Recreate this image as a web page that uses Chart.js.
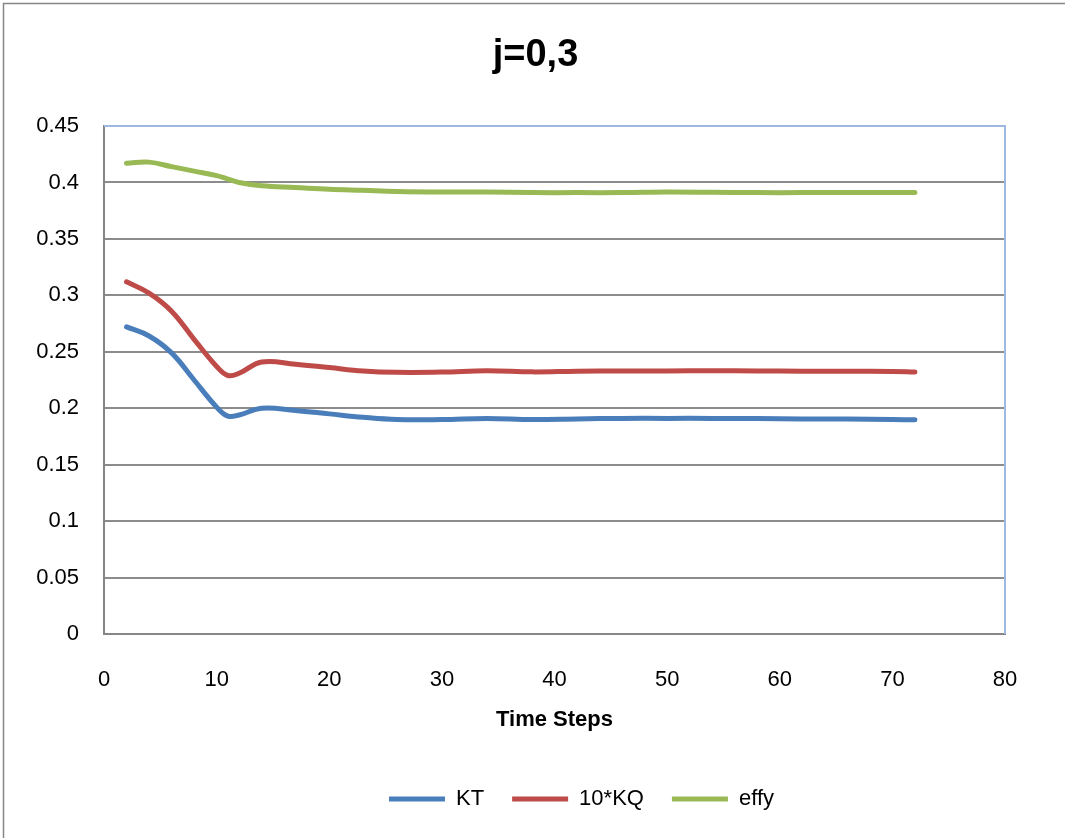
<!DOCTYPE html>
<html>
<head>
<meta charset="utf-8">
<title>j=0,3</title>
<script src="https://cdn.jsdelivr.net/npm/chart.js@4/dist/chart.umd.min.js"></script>
<style>
  html, body { margin: 0; padding: 0; background: #ffffff; }
  canvas { display: block; }
</style>
</head>
<body>
<canvas id="chart" width="1065" height="838"></canvas>
<script>
// Time steps at which the coefficients were sampled
const steps = [2, 4, 6, 8, 10, 11, 12, 14, 17, 20, 23, 26, 30, 34, 38, 42, 46, 50, 54, 58, 62, 66, 70, 72];

// Thrust coefficient
const kt = [0.272, 0.264, 0.249, 0.225, 0.201, 0.193, 0.194, 0.200, 0.198, 0.195, 0.192, 0.190,
            0.190, 0.191, 0.190, 0.1905, 0.191, 0.191, 0.191, 0.1908, 0.1905, 0.1905, 0.190, 0.1897];

// Torque coefficient, scaled by 10
const kq10 = [0.312, 0.302, 0.286, 0.261, 0.237, 0.229, 0.231, 0.241, 0.239, 0.236, 0.233, 0.2318,
              0.232, 0.2332, 0.2322, 0.2328, 0.233, 0.233, 0.2332, 0.233, 0.2328, 0.2328, 0.2325, 0.232];

// Open-water efficiency
const effy = [0.417, 0.418, 0.414, 0.410, 0.406, 0.403, 0.400, 0.397, 0.3955, 0.394, 0.393, 0.392,
              0.3915, 0.3915, 0.391, 0.391, 0.391, 0.3915, 0.3913, 0.391, 0.391, 0.391, 0.391, 0.391];

const seriesNames = ['KT', '10*KQ', 'effy'];
const seriesColors = ['#4A7EBB', '#BE4B48', '#98B954'];
const seriesValues = [kt, kq10, effy];

// Axis ranges and tick spacing
const xRange = [0, 80, 10];
const yRange = [0, 0.45, 0.05];

const FONT = "'Liberation Sans', Arial, sans-serif";

const datasets = seriesNames.map((name, i) => ({
  label: name,
  data: steps.map((s, j) => ({ x: s, y: seriesValues[i][j] })),
  borderColor: seriesColors[i],
  backgroundColor: seriesColors[i],
  borderWidth: 5,
  borderCapStyle: 'round',
  borderJoinStyle: 'round',
  pointRadius: 0,
  pointHoverRadius: 0,
  tension: 0.4,
  fill: false
}));

// Frame around the whole chart and the light blue top/right edges of the plot area
const framePlugin = {
  id: 'frame',
  beforeDraw(chart) {
    const ctx = chart.ctx;
    ctx.save();
    ctx.fillStyle = '#ffffff';
    ctx.fillRect(0, 0, chart.width, chart.height);
    ctx.strokeStyle = '#868686';
    ctx.lineWidth = 1.5;
    ctx.strokeRect(3.5, 3.5, chart.width + 20, chart.height + 20);
    ctx.restore();
  },
  afterDatasetsDraw(chart) {
    const { ctx, chartArea: a } = chart;
    ctx.save();
    ctx.strokeStyle = '#9DB9E2';
    ctx.lineWidth = 2;
    ctx.beginPath();
    ctx.moveTo(a.left, a.top);
    ctx.lineTo(a.right, a.top);
    ctx.lineTo(a.right, a.bottom);
    ctx.stroke();
    ctx.restore();
  }
};

// Nudge title and legend horizontally
const offsetPlugin = {
  id: 'offsets',
  afterLayout(chart) {
    if (chart.titleBlock) { chart.titleBlock.left += 33; chart.titleBlock.right += 33; }
    if (chart.legend) { chart.legend.left += 79; chart.legend.right += 79; }
  }
};

new Chart(document.getElementById('chart'), {
  type: 'line',
  data: { datasets },
  plugins: [framePlugin, offsetPlugin],
  options: {
    responsive: false,
    animation: false,
    devicePixelRatio: 1,
    layout: { padding: { left: 0, right: 60, top: 0, bottom: 18 } },
    plugins: {
      title: {
        display: true,
        text: 'j=0,3',
        color: '#000000',
        font: { family: FONT, size: 38, weight: 'bold' },
        padding: { top: 33, bottom: 47.4 }
      },
      legend: {
        display: true,
        position: 'bottom',
        labels: {
          color: '#000000',
          font: { family: FONT, size: 22 },
          usePointStyle: true,
          pointStyle: 'line',
          pointStyleWidth: 56,
          padding: 28
        }
      },
      tooltip: { enabled: false }
    },
    scales: {
      x: {
        type: 'linear',
        min: xRange[0],
        max: xRange[1],
        afterFit(scale) { scale.height = 126; },
        ticks: {
          stepSize: xRange[2],
          color: '#000000',
          font: { family: FONT, size: 22 },
          padding: 33,
          maxRotation: 0
        },
        grid: { display: false, drawTicks: false },
        border: { display: true, color: '#868686', width: 2 },
        title: {
          display: true,
          text: 'Time Steps',
          color: '#000000',
          font: { family: FONT, size: 22, weight: 'bold' },
          padding: { top: 0, bottom: 27 }
        }
      },
      y: {
        type: 'linear',
        min: yRange[0],
        max: yRange[1],
        afterFit(scale) { scale.width = 104; },
        ticks: {
          stepSize: yRange[2],
          color: '#000000',
          font: { family: FONT, size: 22 },
          padding: 25,
          callback: v => String(Number(v.toFixed(2)))
        },
        grid: {
          drawTicks: false,
          lineWidth: 2,
          color: ctx => (ctx.tick && Math.abs(ctx.tick.value - yRange[1]) < 1e-9) ? 'rgba(0,0,0,0)' : '#8C8C8C'
        },
        border: { display: true, color: '#868686', width: 2 }
      }
    }
  }
});
</script>
</body>
</html>
